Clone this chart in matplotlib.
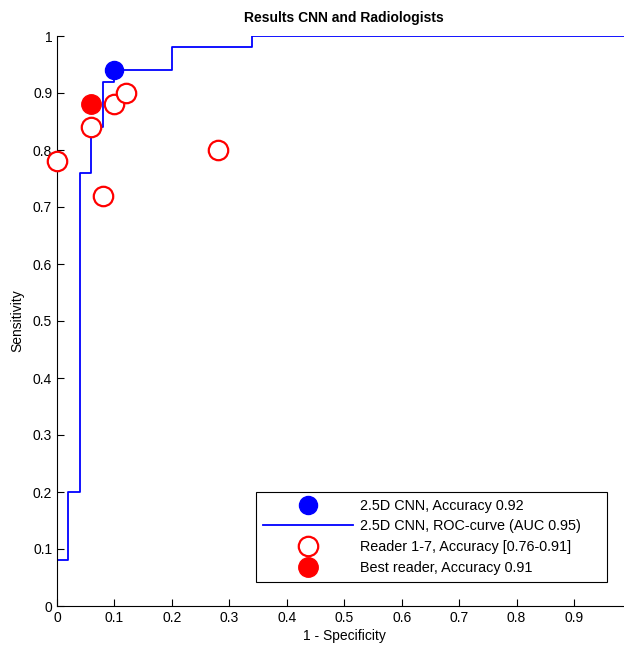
import matplotlib
matplotlib.use('Agg')
import matplotlib.pyplot as plt

plt.rcParams['font.family'] = ['Liberation Sans', 'DejaVu Sans']

# ROC curve of the 2.5D CNN (step points)
ROC_FPR = [0.0, 0.0, 0.02, 0.02, 0.04, 0.04, 0.06, 0.06, 0.08, 0.08, 0.10, 0.10,
           0.20, 0.20, 0.34, 0.34, 1.0]
ROC_TPR = [0.0, 0.08, 0.08, 0.20, 0.20, 0.76, 0.76, 0.84, 0.84, 0.92, 0.92, 0.94,
           0.94, 0.98, 0.98, 1.0, 1.0]

CNN_POINT = (0.10, 0.94)
READERS_FPR = [0.0, 0.06, 0.08, 0.10, 0.12, 0.28]
READERS_TPR = [0.78, 0.84, 0.72, 0.88, 0.90, 0.80]
BEST_READER = (0.06, 0.88)

LABELS = ['2.5D CNN, Accuracy 0.92',
          '2.5D CNN, ROC-curve (AUC 0.95)',
          'Reader 1-7, Accuracy [0.76-0.91]',
          'Best reader, Accuracy 0.91']

fig = plt.figure(figsize=(6.24, 6.47), dpi=100)
ax = fig.add_axes([57 / 624, 41 / 647, 574.4 / 624, 570 / 647])

h_roc, = ax.plot(ROC_FPR, ROC_TPR, color='blue', lw=1.3, zorder=2)
h_cnn, = ax.plot([CNN_POINT[0]], [CNN_POINT[1]], 'o', color='blue', ms=13,
                 mec='blue', zorder=4, clip_on=False)
h_read, = ax.plot(READERS_FPR, READERS_TPR, 'o', mfc='white', mec='red', mew=1.6,
                  ms=14, zorder=3, clip_on=False)
h_best, = ax.plot([BEST_READER[0]], [BEST_READER[1]], 'o', color='red', ms=14,
                  zorder=4, clip_on=False)

ax.set_xlim(0, 1)
ax.set_ylim(0, 1)
ax.set_xticks([0, 0.1, 0.2, 0.3, 0.4, 0.5, 0.6, 0.7, 0.8, 0.9])
ax.set_xticklabels(['0', '0.1', '0.2', '0.3', '0.4', '0.5', '0.6', '0.7', '0.8', '0.9'])
ax.set_yticks([0, 0.1, 0.2, 0.3, 0.4, 0.5, 0.6, 0.7, 0.8, 0.9, 1])
ax.set_yticklabels(['0', '0.1', '0.2', '0.3', '0.4', '0.5', '0.6', '0.7', '0.8', '0.9', '1'])
ax.tick_params(direction='in', length=5, labelsize=10, width=0.8)
ax.spines['top'].set_visible(False)
ax.spines['right'].set_visible(False)
ax.set_xlabel('1 - Specificity', fontsize=10, labelpad=3)
ax.set_ylabel('Sensitivity', fontsize=10, labelpad=6)
ax.set_title('Results CNN and Radiologists', fontsize=10, fontweight='bold', pad=10)

leg = ax.legend([h_cnn, h_roc, h_read, h_best], LABELS,
                loc='lower left',
                bbox_to_anchor=(256 / 624, (647 - 582) / 647, 351 / 624, 90 / 647),
                mode='expand',
                bbox_transform=fig.transFigure, fontsize=10.4, handlelength=6.2,
                labelspacing=0.46, fancybox=False, edgecolor='black', framealpha=1,
                borderpad=0.5, handletextpad=0.5, borderaxespad=0)
leg.get_frame().set_linewidth(0.8)

fig.savefig('out.png', dpi=100)
